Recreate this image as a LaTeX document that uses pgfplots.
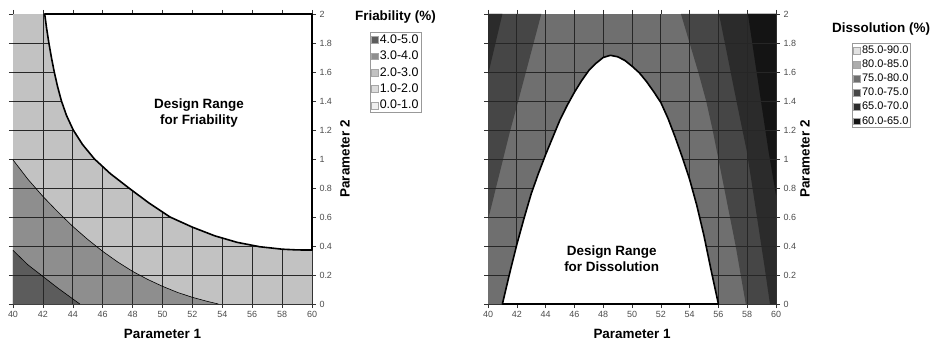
\documentclass[border=0pt]{standalone}
\usepackage{pgfplots}
\pgfplotsset{compat=1.18}
\usepackage{fontspec}
\setmainfont{Liberation Sans}
\definecolor{fA}{HTML}{5C5C5C}
\definecolor{fB}{HTML}{8E8E8E}
\definecolor{fC}{HTML}{C2C2C2}
\definecolor{fD}{HTML}{DCDCDC}
\definecolor{fE}{HTML}{EFEFEF}
\definecolor{dA}{HTML}{E2E2E2}
\definecolor{dB}{HTML}{ADADAD}
\definecolor{dC}{HTML}{6F6F6F}
\definecolor{dD}{HTML}{464646}
\definecolor{dE}{HTML}{2B2B2B}
\definecolor{dF}{HTML}{141414}
\definecolor{gridc}{HTML}{262626}
\pgfplotsset{
  common/.style={
    scale only axis, height=290bp,
    xmin=40, xmax=60, ymin=0, ymax=2,
    xtick={40,42,44,46,48,50,52,54,56,58,60},
    ytick={0,0.2,0.4,0.6,0.8,1,1.2,1.4,1.6,1.8,2},
    yticklabel pos=right,
    tick align=outside, major tick length=4bp,
    tick style={black!80, line width=0.5bp},
    ticklabel style={font=\fontsize{9}{10}\selectfont, text=black!70},
    /pgf/number format/assume math mode=true,
    axis line style={black!80, line width=0.5bp},
    clip=false,
    xlabel={Parameter 1}, ylabel={Parameter 2},
    label style={font=\bfseries\fontsize{13.5}{15}\selectfont},
    xlabel style={at={(axis description cs:0.5,0)}, anchor=base, yshift=-34bp},
    legend cell align=left,
    legend image code/.code={\path[#1, draw=black!35, line width=0.3bp] (0bp,-3.4bp) rectangle (6.8bp,3.4bp);},
  },
  gridl/.style={gridc, line width=0.8bp, forget plot},
}
\begin{document}
\begin{tikzpicture}
\path[use as bounding box] (0,0) rectangle (933bp,341bp);
% ---------------- Friability ----------------
\begin{axis}[common, at={(13bp,37bp)}, anchor=south west, width=299bp,
  ylabel style={at={(axis description cs:1.0936,0.5)}, anchor=north, inner sep=0pt},
  legend style={at={(axis description cs:1.193,0.938)}, anchor=north west,
    draw=black!40, line width=0.9bp, font=\fontsize{12.5}{13}\selectfont,
    inner xsep=1bp, inner ysep=1.5bp, row sep=4.6bp,
    nodes={inner xsep=1.5bp, inner ysep=0.8bp, font=\fontsize{12.5}{13}\selectfont}},
]
\addplot[fill=fC, draw=none, forget plot] coordinates {(40,0) (60,0) (60,2) (40,2)} -- cycle;
\addplot[fill=fB, draw=none, forget plot] coordinates {(40,0) (40,0.994) (41,0.86) (42,0.742) (43,0.635) (44,0.535) (45,0.445) (46,0.363) (47,0.29) (48,0.225) (49,0.17) (50,0.122) (51,0.08) (52,0.046) (53,0.018) (53.74,0)} -- cycle;
\addplot[fill=fA, draw=none, forget plot] coordinates {(40,0) (40,0.37) (41,0.27) (42,0.19) (43,0.11) (44,0.035) (44.47,0)} -- cycle;
\pgfplotsinvokeforeach{42,44,46,48,50,52,54,56,58}{\addplot[gridl] coordinates {(#1,0) (#1,2)};}
\pgfplotsinvokeforeach{0.2,0.4,0.6,0.8,1,1.2,1.4,1.6,1.8}{\addplot[gridl] coordinates {(40,#1) (60,#1)};}
\addplot[black, line width=0.6bp, forget plot] coordinates {(40,0.994) (41,0.86) (42,0.742) (43,0.635) (44,0.535) (45,0.445) (46,0.363) (47,0.29) (48,0.225) (49,0.17) (50,0.122) (51,0.08) (52,0.046) (53,0.018) (53.74,0)};
\addplot[black, line width=0.6bp, forget plot] coordinates {(40,0.37) (41,0.27) (42,0.19) (43,0.11) (44,0.035) (44.47,0)};
\addplot[fill=white, draw=black, line width=1.6bp, line join=round, forget plot] coordinates {(42.12,2.0) (42.25,1.9) (42.4,1.8) (42.57,1.7) (42.76,1.6) (42.98,1.5) (43.24,1.4) (43.58,1.3) (44.03,1.2) (44.65,1.1) (45.45,1.0) (46.5,0.9) (47.75,0.8) (49.05,0.7) (50.5,0.6) (52.0,0.53) (53.5,0.47) (55.0,0.425) (56.5,0.395) (58.0,0.378) (59.0,0.373) (60,0.372) (60,2)} -- cycle;
\node[font=\bfseries\fontsize{13.5}{16}\selectfont, align=center] at (axis cs:52.44,1.32) {Design Range\\for Friability};
\node[font=\bfseries\fontsize{13.5}{15}\selectfont] at (axis description cs:1.279,0.990) {Friability (\%)};
\addlegendimage{fill=fA, draw=none}\addlegendentry{4.0-5.0}
\addlegendimage{fill=fB, draw=none}\addlegendentry{3.0-4.0}
\addlegendimage{fill=fC, draw=none}\addlegendentry{2.0-3.0}
\addlegendimage{fill=fD, draw=none}\addlegendentry{1.0-2.0}
\addlegendimage{fill=fE, draw=none}\addlegendentry{0.0-1.0}
\end{axis}
% ---------------- Dissolution ----------------
\begin{axis}[common, at={(488bp,37bp)}, anchor=south west, width=288bp,
  ylabel style={at={(axis description cs:1.0833,0.5)}, anchor=north, inner sep=0pt},
  legend style={at={(axis description cs:1.264,0.900)}, anchor=north west,
    draw=black!40, line width=0.9bp, font=\fontsize{11}{12}\selectfont,
    inner xsep=1bp, inner ysep=1.5bp, row sep=3.4bp,
    nodes={inner xsep=1.5bp, inner ysep=0.8bp, font=\fontsize{11}{12}\selectfont}},
]
\addplot[fill=dC, draw=none, forget plot] coordinates {(40,0) (60,0) (60,2) (40,2)} -- cycle;
\addplot[fill=dD, draw=none, forget plot] coordinates {(40,2) (43.7,2) (42.9,1.7) (42.1,1.4) (41.5,1.18) (41.05,1.0) (40.5,0.78) (40,0.58)} -- cycle;
\addplot[fill=dE, draw=none, forget plot] coordinates {(40,2) (41.0,2) (40,1.58)} -- cycle;
\addplot[fill=dD, draw=none, forget plot] coordinates {(53.4,2) (54.0,1.8) (54.6,1.6) (55.15,1.4) (55.6,1.2) (56.0,1.0) (56.4,0.8) (56.8,0.6) (57.2,0.4) (57.55,0.2) (57.9,0) (60,0) (60,2)} -- cycle;
\addplot[fill=dE, draw=none, forget plot] coordinates {(56.04,2) (56.55,1.75) (57.05,1.5) (57.5,1.28) (57.96,1.06) (58.4,0.78) (58.8,0.52) (59.2,0.26) (59.58,0) (60,0) (60,2)} -- cycle;
\addplot[fill=dF, draw=none, forget plot] coordinates {(58.05,2) (58.5,1.7) (59.0,1.37) (59.47,1.06) (60,0.75) (60,2)} -- cycle;
\pgfplotsinvokeforeach{42,44,46,48,50,52,54,56,58}{\addplot[gridl] coordinates {(#1,0) (#1,2)};}
\pgfplotsinvokeforeach{0.2,0.4,0.6,0.8,1,1.2,1.4,1.6,1.8}{\addplot[gridl] coordinates {(40,#1) (60,#1)};}
\addplot[fill=white, draw=black, line width=1.6bp, line join=round, forget plot] coordinates {(41.0,0) (41.5,0.21) (42.0,0.41) (42.5,0.59) (43.0,0.76) (43.5,0.90) (44.0,1.03) (44.5,1.15) (45.0,1.27) (45.5,1.37) (46.0,1.46) (46.5,1.54) (47.0,1.61) (47.5,1.66) (48.0,1.70) (48.5,1.715) (49.0,1.705) (49.5,1.68) (50.0,1.64) (50.5,1.595) (51.0,1.535) (51.5,1.465) (52.0,1.39) (52.5,1.28) (53.0,1.15) (53.5,1.01) (54.0,0.86) (54.5,0.68) (55.0,0.47) (55.5,0.23) (56.0,0)} -- cycle;
\node[font=\bfseries\fontsize{13.5}{16}\selectfont, align=center] at (axis cs:48.59,0.31) {Design Range\\for Dissolution};
\node[font=\bfseries\fontsize{13.5}{15}\selectfont] at (axis description cs:1.365,0.948) {Dissolution (\%)};
\addlegendimage{fill=dA, draw=none}\addlegendentry{85.0-90.0}
\addlegendimage{fill=dB, draw=none}\addlegendentry{80.0-85.0}
\addlegendimage{fill=dC, draw=none}\addlegendentry{75.0-80.0}
\addlegendimage{fill=dD, draw=none}\addlegendentry{70.0-75.0}
\addlegendimage{fill=dE, draw=none}\addlegendentry{65.0-70.0}
\addlegendimage{fill=dF, draw=none}\addlegendentry{60.0-65.0}
\end{axis}
\end{tikzpicture}
\end{document}
